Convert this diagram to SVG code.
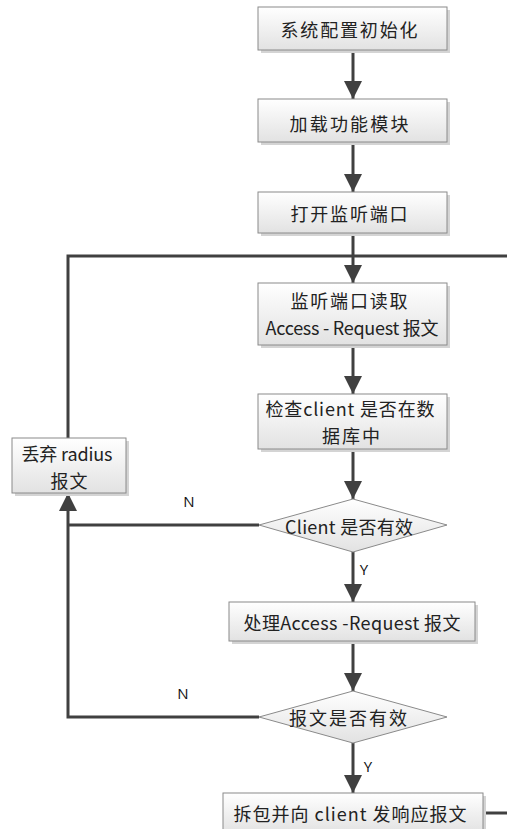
<svg xmlns="http://www.w3.org/2000/svg" width="507" height="829" viewBox="0 0 507 829">
<style>
.box{fill:url(#g);stroke:#8a8a8a;stroke-width:1}
.sh{fill:#d4d4d4}
.t{font-family:"Noto Sans CJK SC","Open Sans",sans-serif;font-size:18px;fill:#222;text-anchor:middle;dominant-baseline:central}
.lab{font-family:"Open Sans","Liberation Sans",sans-serif;font-size:15px;fill:#111;text-anchor:middle;dominant-baseline:central}
.ln{fill:none;stroke:#404040;stroke-width:3}
</style>
<defs>
<linearGradient id="g" x1="0" y1="0" x2="0" y2="1">
<stop offset="0" stop-color="#ffffff"/>
<stop offset="1" stop-color="#e2e2e2"/>
</linearGradient>
<marker id="a" markerUnits="userSpaceOnUse" markerWidth="18" markerHeight="18" viewBox="0 0 18 18" refX="18" refY="9" orient="auto">
<path d="M0,0 L18,9 L0,18 Z" fill="#404040"/>
</marker>
</defs>
<rect width="507" height="829" fill="#ffffff"/>
<g id="connectors">
<line class="ln" x1="353" y1="50" x2="353" y2="99" marker-end="url(#a)"/>
<line class="ln" x1="353" y1="142" x2="353" y2="192" marker-end="url(#a)"/>
<line class="ln" x1="353" y1="233" x2="353" y2="283" marker-end="url(#a)"/>
<polyline class="ln" points="68,438 68,256 507,256"/>
<line class="ln" x1="353" y1="345" x2="353" y2="394" marker-end="url(#a)"/>
<line class="ln" x1="353" y1="449" x2="353" y2="499" marker-end="url(#a)"/>
<line class="ln" x1="353" y1="552" x2="353" y2="602" marker-end="url(#a)"/>
<line class="ln" x1="353" y1="641" x2="353" y2="691" marker-end="url(#a)"/>
<line class="ln" x1="353" y1="743" x2="353" y2="793" marker-end="url(#a)"/>
<polyline class="ln" points="259,525 68,525"/>
<polyline class="ln" points="259,717 68,717 68,493" marker-end="url(#a)"/>
<line class="ln" x1="483" y1="813" x2="507" y2="813"/>
<text class="lab" x="189" y="501">N</text>
<text class="lab" x="364" y="569">Y</text>
<text class="lab" x="183" y="693">N</text>
<text class="lab" x="368" y="766">Y</text>
</g>
<g id="n1">
<rect class="sh" x="261" y="10" width="189" height="43"/>
<rect class="box" x="258" y="7" width="189" height="43"/>
<text class="t" x="349" y="29" textLength="137" lengthAdjust="spacing">系统配置初始化</text>
</g>
<g id="n2">
<rect class="sh" x="261" y="102" width="189" height="43"/>
<rect class="box" x="258" y="99" width="189" height="43"/>
<text class="t" x="349" y="123" textLength="119" lengthAdjust="spacing">加载功能模块</text>
</g>
<g id="n3">
<rect class="sh" x="261" y="195" width="189" height="41"/>
<rect class="box" x="258" y="192" width="189" height="41"/>
<text class="t" x="349" y="213" textLength="117" lengthAdjust="spacing">打开监听端口</text>
</g>
<g id="n4">
<rect class="sh" x="261" y="286" width="189" height="62"/>
<rect class="box" x="258" y="283" width="189" height="62"/>
<text class="t" x="349" y="300" textLength="117" lengthAdjust="spacing">监听端口读取</text>
<text class="t" x="352" y="327" textLength="173" lengthAdjust="spacing">Access - Request 报文</text>
</g>
<g id="n5">
<rect class="sh" x="261" y="397" width="189" height="55"/>
<rect class="box" x="258" y="394" width="189" height="55"/>
<text class="t" x="350" y="408" textLength="169" lengthAdjust="spacing">检查client 是否在数</text>
<text class="t" x="351" y="435" textLength="58" lengthAdjust="spacing">据库中</text>
</g>
<g id="n6">
<rect class="sh" x="15" y="441" width="114" height="55"/>
<rect class="box" x="12" y="438" width="114" height="55"/>
<text class="t" x="67" y="453" textLength="91" lengthAdjust="spacing">丢弃 radius</text>
<text class="t" x="69" y="480" textLength="37" lengthAdjust="spacing">报文</text>
</g>
<g id="n7">
<polygon class="box" points="353,499 447,525 353,552 259,525"/>
<text class="t" x="349" y="526" textLength="128" lengthAdjust="spacing">Client 是否有效</text>
</g>
<g id="n8">
<rect class="sh" x="232" y="605" width="246" height="39"/>
<rect class="box" x="229" y="602" width="246" height="39"/>
<text class="t" x="352" y="622" textLength="217" lengthAdjust="spacing">处理Access -Request  报文</text>
</g>
<g id="n9">
<polygon class="box" points="353,691 447,717 353,743 259,717"/>
<text class="t" x="348" y="717" textLength="118" lengthAdjust="spacing">报文是否有效</text>
</g>
<g id="n10">
<rect class="sh" x="226" y="796" width="260" height="40"/>
<rect class="box" x="223" y="793" width="260" height="40"/>
<text class="t" x="350" y="813" textLength="233" lengthAdjust="spacing">拆包并向 client 发响应报文</text>
</g>
</svg>
